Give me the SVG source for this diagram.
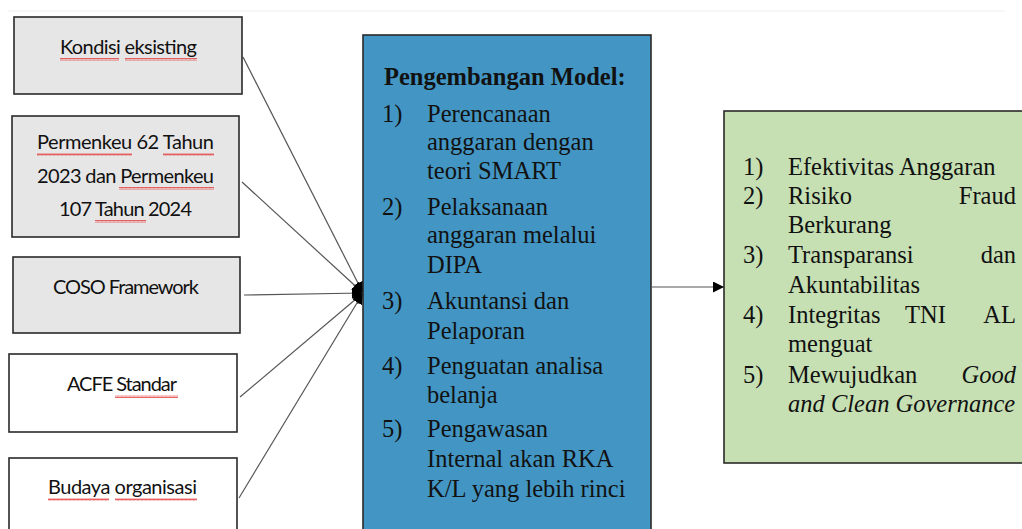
<svg xmlns="http://www.w3.org/2000/svg" width="1022" height="529" viewBox="0 0 1022 529">
  <defs>
    <pattern id="squig" width="4" height="3" patternUnits="userSpaceOnUse">
      <path d="M0,2.5 L1,0.5 L2,2.5 L3,0.5 L4,2.5" fill="none" stroke="#e23b3b" stroke-width="0.8"/>
    </pattern>
    <marker id="arr" viewBox="0 0 10 10" refX="10" refY="5" markerWidth="11" markerHeight="11" markerUnits="userSpaceOnUse" orient="auto">
      <path d="M0,0 L10,5 L0,10 Z" fill="#000"/>
    </marker>
  </defs>
  <style>
    .box { stroke: #2a2a2a; stroke-width: 1.6; }
    .gray { fill: #e6e6e6; }
    .white { fill: #ffffff; }
    .blue { fill: #4396c3; }
    .green { fill: #c6e0b4; }
    .cal { font-family: Lato, "Liberation Sans", sans-serif; font-size: 20px; fill: #111; text-anchor: middle; }
    .tnr { font-family: "Liberation Serif", "Times New Roman", serif; font-size: 24.5px; fill: #111; }
    .b { font-weight: bold; }
    .i { font-style: italic; }
    .end { text-anchor: end; }
    .sq { fill: url(#squig); }
    .conn { stroke: #555; stroke-width: 1.2; fill: none; marker-end: url(#arr); }
  </style>
  <rect width="1022" height="529" fill="#ffffff"/>
  <line x1="8" y1="11" x2="1005" y2="11" stroke="#eeeeee" stroke-width="1"/>

  <g id="connectors">
    <line class="conn" x1="243" y1="57" x2="363" y2="293"/>
    <line class="conn" x1="242" y1="182" x2="363" y2="293"/>
    <line class="conn" x1="244" y1="295" x2="363" y2="293"/>
    <line class="conn" x1="240" y1="397" x2="363" y2="293"/>
    <line class="conn" x1="239" y1="498" x2="363" y2="293"/>
    <line class="conn" x1="652" y1="287" x2="724" y2="287"/>
  </g>

  <g id="node-kondisi">
    <rect class="box gray" x="14" y="17" width="228" height="77"/>
    <text class="cal" x="128.5" y="54" textLength="137">Kondisi eksisting</text>
    <rect class="sq" x="60" y="58" width="59" height="3"/>
    <rect class="sq" x="125" y="58" width="72" height="3"/>
  </g>

  <g id="node-permenkeu">
    <rect class="box gray" x="12" y="116" width="227" height="121"/>
    <text class="cal" x="125.5" y="149" textLength="177">Permenkeu 62 Tahun</text>
    <text class="cal" x="125.5" y="183" textLength="177">2023 dan Permenkeu</text>
    <text class="cal" x="125.5" y="216" textLength="133">107 Tahun 2024</text>
    <rect class="sq" x="37" y="153" width="95" height="3"/>
    <rect class="sq" x="163" y="153" width="51" height="3"/>
    <rect class="sq" x="119" y="187" width="95" height="3"/>
    <rect class="sq" x="95" y="220" width="51" height="3"/>
  </g>

  <g id="node-coso">
    <rect class="box gray" x="13" y="257" width="227" height="76"/>
    <text class="cal" x="126" y="294" textLength="146">COSO Framework</text>
  </g>

  <g id="node-acfe">
    <rect class="box white" x="9" y="354" width="228" height="78"/>
    <text class="cal" x="122" y="391" textLength="110">ACFE Standar</text>
    <rect class="sq" x="115" y="395" width="63" height="3"/>
  </g>

  <g id="node-budaya">
    <rect class="box white" x="9" y="458" width="228" height="90"/>
    <text class="cal" x="122.5" y="494" textLength="149">Budaya organisasi</text>
    <rect class="sq" x="48" y="498" width="61" height="3"/>
    <rect class="sq" x="115" y="498" width="82" height="3"/>
  </g>

  <g id="node-model">
    <rect class="box blue" x="363" y="35" width="288" height="510"/>
    <text class="tnr b" x="384" y="85">Pengembangan Model:</text>
    <text class="tnr" x="382" y="122">1)</text>
    <text class="tnr" x="427" y="122">Perencanaan</text>
    <text class="tnr" x="427" y="150">anggaran dengan</text>
    <text class="tnr" x="427" y="179">teori SMART</text>
    <text class="tnr" x="382" y="215">2)</text>
    <text class="tnr" x="427" y="215">Pelaksanaan</text>
    <text class="tnr" x="427" y="243">anggaran melalui</text>
    <text class="tnr" x="427" y="273">DIPA</text>
    <text class="tnr" x="382" y="309">3)</text>
    <text class="tnr" x="427" y="309">Akuntansi dan</text>
    <text class="tnr" x="427" y="339">Pelaporan</text>
    <text class="tnr" x="382" y="374">4)</text>
    <text class="tnr" x="427" y="374">Penguatan analisa</text>
    <text class="tnr" x="427" y="403">belanja</text>
    <text class="tnr" x="382" y="437">5)</text>
    <text class="tnr" x="427" y="437">Pengawasan</text>
    <text class="tnr" x="427" y="467">Internal akan RKA</text>
    <text class="tnr" x="427" y="497">K/L yang lebih rinci</text>
  </g>

  <g id="node-hasil">
    <rect class="box green" x="724" y="111" width="310" height="352"/>
    <text class="tnr" x="743" y="175">1)</text>
    <text class="tnr" x="788" y="175">Efektivitas Anggaran</text>
    <text class="tnr" x="743" y="204">2)</text>
    <text class="tnr" x="788" y="204">Risiko</text>
    <text class="tnr end" x="1016" y="204">Fraud</text>
    <text class="tnr" x="788" y="233">Berkurang</text>
    <text class="tnr" x="743" y="263">3)</text>
    <text class="tnr" x="788" y="263">Transparansi</text>
    <text class="tnr end" x="1016" y="263">dan</text>
    <text class="tnr" x="788" y="293">Akuntabilitas</text>
    <text class="tnr" x="743" y="323">4)</text>
    <text class="tnr" x="788" y="323">Integritas</text>
    <text class="tnr" x="905" y="323">TNI</text>
    <text class="tnr end" x="1016" y="323">AL</text>
    <text class="tnr" x="788" y="352">menguat</text>
    <text class="tnr" x="743" y="383">5)</text>
    <text class="tnr" x="788" y="383">Mewujudkan</text>
    <text class="tnr i end" x="1016" y="383">Good</text>
    <text class="tnr i" x="788" y="412">and Clean Governance</text>
  </g>
</svg>
